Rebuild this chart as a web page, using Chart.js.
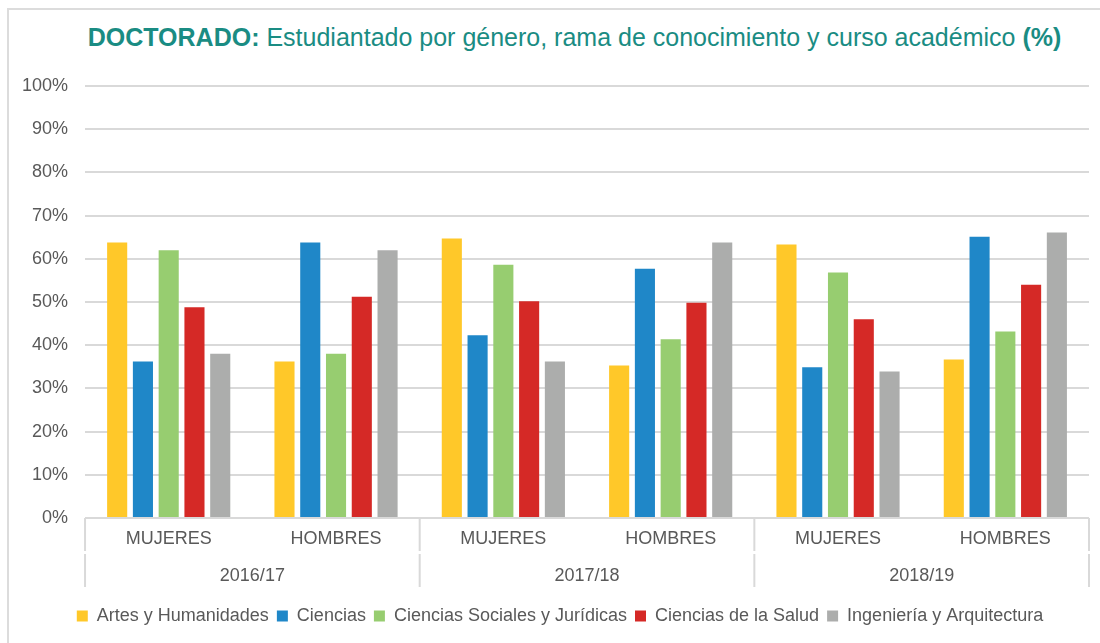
<!DOCTYPE html>
<html>
<head>
<meta charset="utf-8">
<script src="https://cdn.jsdelivr.net/npm/chart.js@4"></script>
<style>
  body { margin: 0; background: #fff; font-family: "Liberation Sans", Arial, sans-serif; }
  #wrap { position: relative; width: 1100px; height: 643px; overflow: hidden; }
  #frame { position: absolute; left: 7px; top: 8px; width: 1100px; height: 640px;
           border-top: 2px solid #dcdcdc; border-left: 2px solid #dcdcdc; }
  #title { position: absolute; left: 0; width: 1149px; top: 23px; text-align: center;
           font-size: 25px; color: #1a8c83; white-space: nowrap; }
  canvas { position: absolute; left: 0; top: 0; }
</style>
</head>
<body>
<div id="wrap">
  <div id="frame"></div>
  <div id="title"><b>DOCTORADO:</b> Estudiantado por género, rama de conocimiento y curso académico <b>(%)</b></div>
  <canvas id="myChart" width="1100" height="643"></canvas>
</div>
<script>
const years = ["2016/17", "2017/18", "2018/19"]
const genders = ["MUJERES", "HOMBRES"]
const categories = ["MUJERES", "HOMBRES", "MUJERES", "HOMBRES", "MUJERES", "HOMBRES"]

const artes = [63.8, 36.2, 64.7, 35.3, 63.3, 36.7]
const ciencias = [36.2, 63.8, 42.3, 57.7, 34.9, 65.1]
const sociales = [62, 38, 58.6, 41.4, 56.8, 43.2]
const salud = [48.8, 51.2, 50.2, 49.8, 46, 54]
const ingenieria = [38, 62, 36.2, 63.8, 33.9, 66.1]

const yTicks = [0, 10, 20, 30, 40, 50, 60, 70, 80, 90, 100]

const grey = "#595959"
const lineGrey = "#d9d9d9"

// second level of the x axis: years + separators
const yearAxis = {
  id: "yearAxis",
  afterLayout(chart) {
    // nudge legend to the right like in the original
    chart.legend.left += 13
    chart.legend.right += 13
  },
  afterDraw(chart) {
    const ctx = chart.ctx
    const x = chart.scales.x
    const area = chart.chartArea
    const half = (x.getPixelForValue(1) - x.getPixelForValue(0)) / 2
    ctx.save()
    ctx.strokeStyle = lineGrey
    ctx.lineWidth = 2
    for (let i = 0; i <= years.length; i++) {
      const px = i < years.length
        ? x.getPixelForValue(i * 2) - half
        : x.getPixelForValue(i * 2 - 1) + half
      ctx.beginPath()
      ctx.moveTo(px, area.bottom)
      ctx.lineTo(px, area.bottom + 33)
      ctx.moveTo(px, area.bottom + 36)
      ctx.lineTo(px, area.bottom + 69)
      ctx.stroke()
    }
    ctx.fillStyle = grey
    ctx.font = "18px 'Liberation Sans', Arial, sans-serif"
    ctx.textAlign = "center"
    ctx.textBaseline = "middle"
    years.forEach((y, i) => {
      const cx = (x.getPixelForValue(i * 2) + x.getPixelForValue(i * 2 + 1)) / 2
      ctx.fillText(y, cx, area.bottom + 58)
    })
    ctx.restore()
  }
}

const font = { family: "'Liberation Sans', Arial, sans-serif", size: 18 }

const chartData = {
  labels: categories,
  datasets: [
    { label: "Artes y Humanidades", data: artes, backgroundColor: "#ffc829" },
    { label: "Ciencias", data: ciencias, backgroundColor: "#1f87c8" },
    { label: "Ciencias Sociales y Jurídicas", data: sociales, backgroundColor: "#97cd70" },
    { label: "Ciencias de la Salud", data: salud, backgroundColor: "#d52926" },
    { label: "Ingeniería y Arquitectura", data: ingenieria, backgroundColor: "#acadac" }
  ]
}

const chartOptions = {
  responsive: false,
  animation: false,
  layout: { padding: { top: 86, left: 5, right: 11, bottom: 8 } },
  datasets: { bar: { categoryPercentage: 0.77, barPercentage: 0.78 } },
  scales: {
    y: {
      min: 0,
      max: 100,
      afterBuildTicks: scale => { scale.ticks = yTicks.map(v => ({ value: v })) },
      ticks: { callback: v => v + "%", color: grey, font: font, padding: 17 },
      grid: { color: lineGrey, lineWidth: 2, drawTicks: false },
      border: { display: false }
    },
    x: {
      ticks: { color: grey, font: font, padding: 10, maxRotation: 0 },
      grid: { display: false, drawTicks: false },
      border: { display: false },
      afterFit: scale => { scale.height = 81 }
    }
  },
  plugins: {
    legend: {
      position: "bottom",
      labels: { color: grey, font: font, boxWidth: 11, boxHeight: 11, padding: 8 }
    },
    tooltip: { enabled: false }
  }
}

const ctx = document.getElementById("myChart").getContext("2d")
const myChart = new Chart(ctx, {
  type: "bar",
  data: chartData,
  options: chartOptions,
  plugins: [yearAxis]
})
</script>
</body>
</html>
